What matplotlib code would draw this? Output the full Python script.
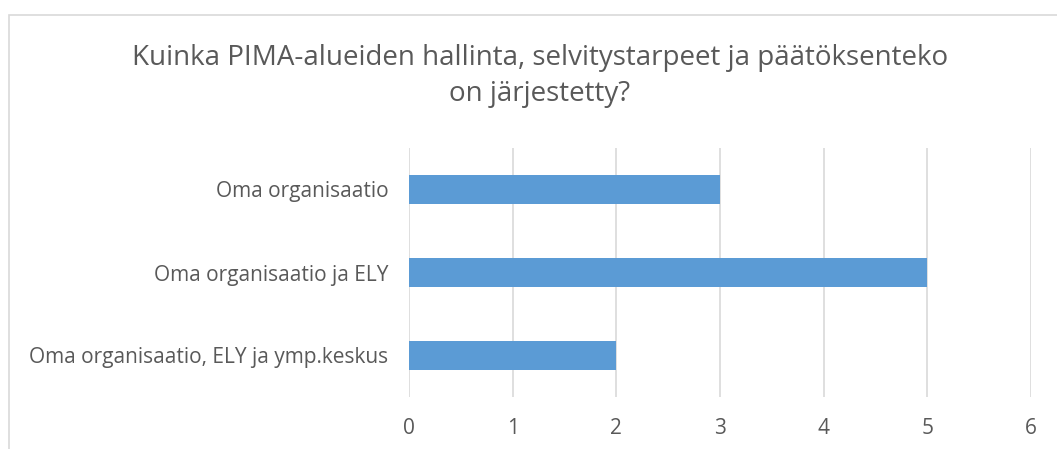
import matplotlib.pyplot as plt
from matplotlib.patches import Rectangle

categories = ["Oma organisaatio", "Oma organisaatio ja ELY", "Oma organisaatio, ELY ja ymp.keskus"]
values = [3, 5, 2]
title = "Kuinka PIMA-alueiden hallinta, selvitystarpeet ja päätöksenteko\non järjestetty?"

plt.rcParams["font.family"] = ["Open Sans", "DejaVu Sans"]
text_color = "#595959"

W, H = 1057, 449
fig = plt.figure(figsize=(W / 100, H / 100), dpi=100)
ax = fig.add_axes([409 / W, 1 - 397 / H, (1031 - 409) / W, (397 - 148) / H])

# outer chart border (only left and top visible in the crop)
fig.patches.append(Rectangle((9 / W, -0.1), 1.2, 1 - 15 / H + 0.1, transform=fig.transFigure,
                             fill=False, edgecolor="#D9D9D9", linewidth=1.2))

y = list(range(len(categories)))
ax.barh(y, values, height=0.36, color="#5B9BD5", zorder=3)
ax.set_yticks(y)
ax.set_yticklabels(categories)
ax.set_ylim(len(categories) - 0.5, -0.5)
ax.set_xlim(0, 6)
ax.set_xticks(range(0, 7))
ax.grid(axis="x", color="#D9D9D9", linewidth=1.2, zorder=0)
for s in ax.spines.values():
    s.set_visible(False)
ax.tick_params(axis="both", length=0, labelsize=15, colors=text_color)
ax.tick_params(axis="y", pad=15)
ax.tick_params(axis="x", pad=15)

fig.text(540 / W, 1 - 76 / H, title, ha="center", va="center", fontsize=20,
         color=text_color, linespacing=1.4)

fig.savefig("out.png", dpi=100)
